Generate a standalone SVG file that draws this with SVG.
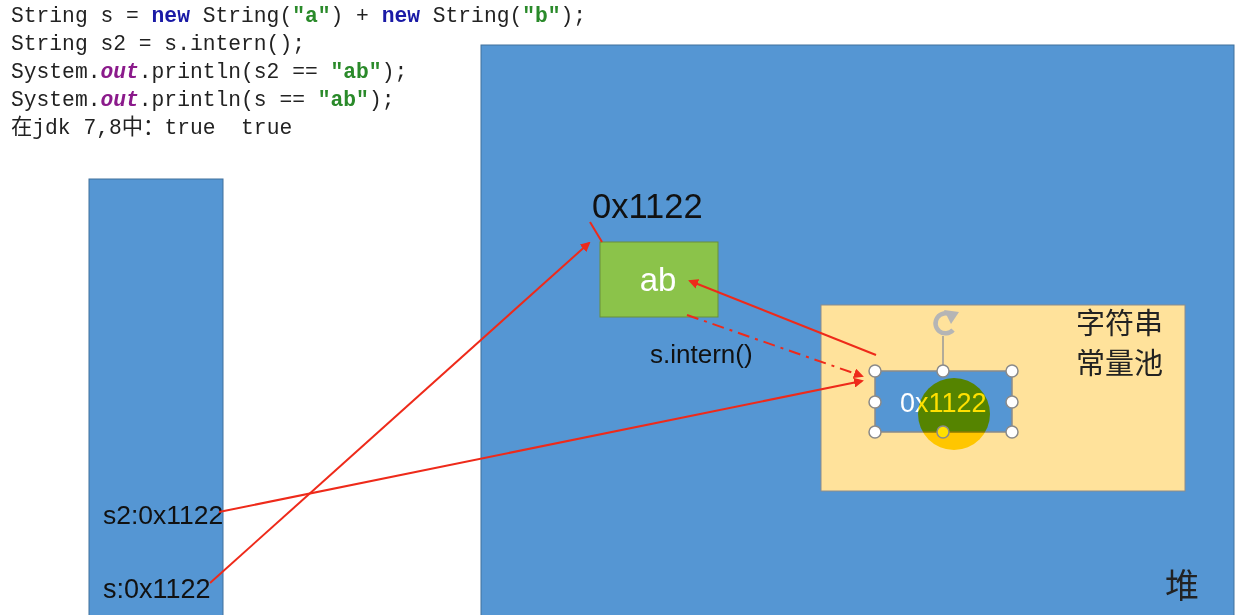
<svg xmlns="http://www.w3.org/2000/svg" width="1241" height="615" viewBox="0 0 1241 615">
<defs>
<style>
.code{font-family:"Liberation Mono","DejaVu Sans Mono",monospace;font-size:21.3px;fill:#222;white-space:pre}
.kw{fill:#1a1aa6;font-weight:bold}
.str{fill:#2a8a2a;font-weight:bold}
.out{fill:#8b1a8b;font-weight:bold;font-style:italic}
.lbl{font-family:"Liberation Sans",Arial,sans-serif;fill:#111}
.cjk{font-family:"Noto Sans CJK SC","Liberation Sans",sans-serif;fill:#222}
.blue{fill:#5596d3;stroke:#41719c;stroke-width:1}
.conn{stroke:#ee2a1a;stroke-width:2;fill:none}
.handle{fill:#fff;stroke:#8a8a8a;stroke-width:1.5}
</style>
<marker id="ah" markerWidth="10" markerHeight="10" refX="8" refY="5" orient="auto" markerUnits="userSpaceOnUse">
<path d="M0,0 L10,5 L0,10 Z" fill="#ee2a1a"/>
</marker>
</defs>
<rect width="1241" height="615" fill="#fff"/>
<g id="code">
<text class="code" x="11" y="22">String s = <tspan class="kw">new</tspan> String(<tspan class="str">"a"</tspan>) + <tspan class="kw">new</tspan> String(<tspan class="str">"b"</tspan>);</text>
<text class="code" x="11" y="50">String s2 = s.intern();</text>
<text class="code" x="11" y="78">System.<tspan class="out">out</tspan>.println(s2 == <tspan class="str">"ab"</tspan>);</text>
<text class="code" x="11" y="106">System.<tspan class="out">out</tspan>.println(s == <tspan class="str">"ab"</tspan>);</text>
<text class="code" x="11" y="134" xml:space="preserve"><tspan font-family="Noto Sans CJK SC,sans-serif">在</tspan>jdk 7,8<tspan font-family="Noto Sans CJK SC,sans-serif">中：</tspan>true  true</text>
</g>
<g id="stack">
<rect class="blue" x="89" y="179" width="134" height="440"/>
<text class="lbl" x="103" y="524" font-size="26.5">s2:0x1122</text>
<text class="lbl" x="103" y="598" font-size="27">s:0x1122</text>
</g>
<g id="heap">
<rect class="blue" x="481" y="45" width="753" height="575"/>
<text class="cjk" x="1165" y="598" font-size="34">堆</text>
</g>
<g id="ab-object">
<text class="lbl" x="592" y="218" font-size="34.5">0x1122</text>
<rect x="600" y="242" width="118" height="75" fill="#8bc34a" stroke="#6a8f3a" stroke-width="1"/>
<text x="658" y="291" font-family="Liberation Sans,Arial,sans-serif" font-size="33" fill="#fff" text-anchor="middle">ab</text>
</g>
<g id="string-pool">
<rect x="821" y="305" width="364" height="186" fill="#ffe29b" stroke="#8c8c8c" stroke-width="1"/>
<text class="cjk" x="1076" y="334" font-size="29">字符串</text>
<text class="cjk" x="1076" y="374" font-size="29">常量池</text>
</g>
<g id="pool-entry">
<rect x="875" y="371" width="137" height="61" fill="#5596d3" stroke="#8a8a8a" stroke-width="1.5"/>
<text x="900" y="412" font-family="Liberation Sans,Arial,sans-serif" font-size="27" fill="#fff">0x1122</text>
<circle cx="954" cy="414" r="36" fill="#ffe000" style="mix-blend-mode:multiply"/>
<line x1="943" y1="371" x2="943" y2="336" stroke="#999" stroke-width="1.5"/>
<path d="M951,315 A10,10 0 1 0 953,330" fill="none" stroke="#b5b5b5" stroke-width="4.5"/>
<path d="M944,310 L959,312 L951,324 Z" fill="#b5b5b5"/>
<circle class="handle" cx="875" cy="371" r="6"/>
<circle class="handle" cx="943" cy="371" r="6"/>
<circle class="handle" cx="1012" cy="371" r="6"/>
<circle class="handle" cx="875" cy="402" r="6"/>
<circle class="handle" cx="1012" cy="402" r="6"/>
<circle class="handle" cx="875" cy="432" r="6"/>
<circle cx="943" cy="432" r="6" fill="#ffe000" stroke="#8a8a8a" stroke-width="1.5"/>
<circle class="handle" cx="1012" cy="432" r="6"/>
</g>
<g id="connectors">
<line class="conn" x1="590" y1="222" x2="602" y2="242"/>
<line class="conn" x1="210" y1="583" x2="589" y2="243" marker-end="url(#ah)"/>
<line class="conn" x1="219" y1="512" x2="862" y2="381" marker-end="url(#ah)"/>
<line class="conn" x1="876" y1="355" x2="690" y2="281" marker-end="url(#ah)"/>
<line class="conn" x1="687" y1="315" x2="862" y2="376" stroke-dasharray="12,6,3,6" marker-end="url(#ah)"/>
<text class="lbl" x="650" y="363" font-size="26">s.intern()</text>
</g>
</svg>
